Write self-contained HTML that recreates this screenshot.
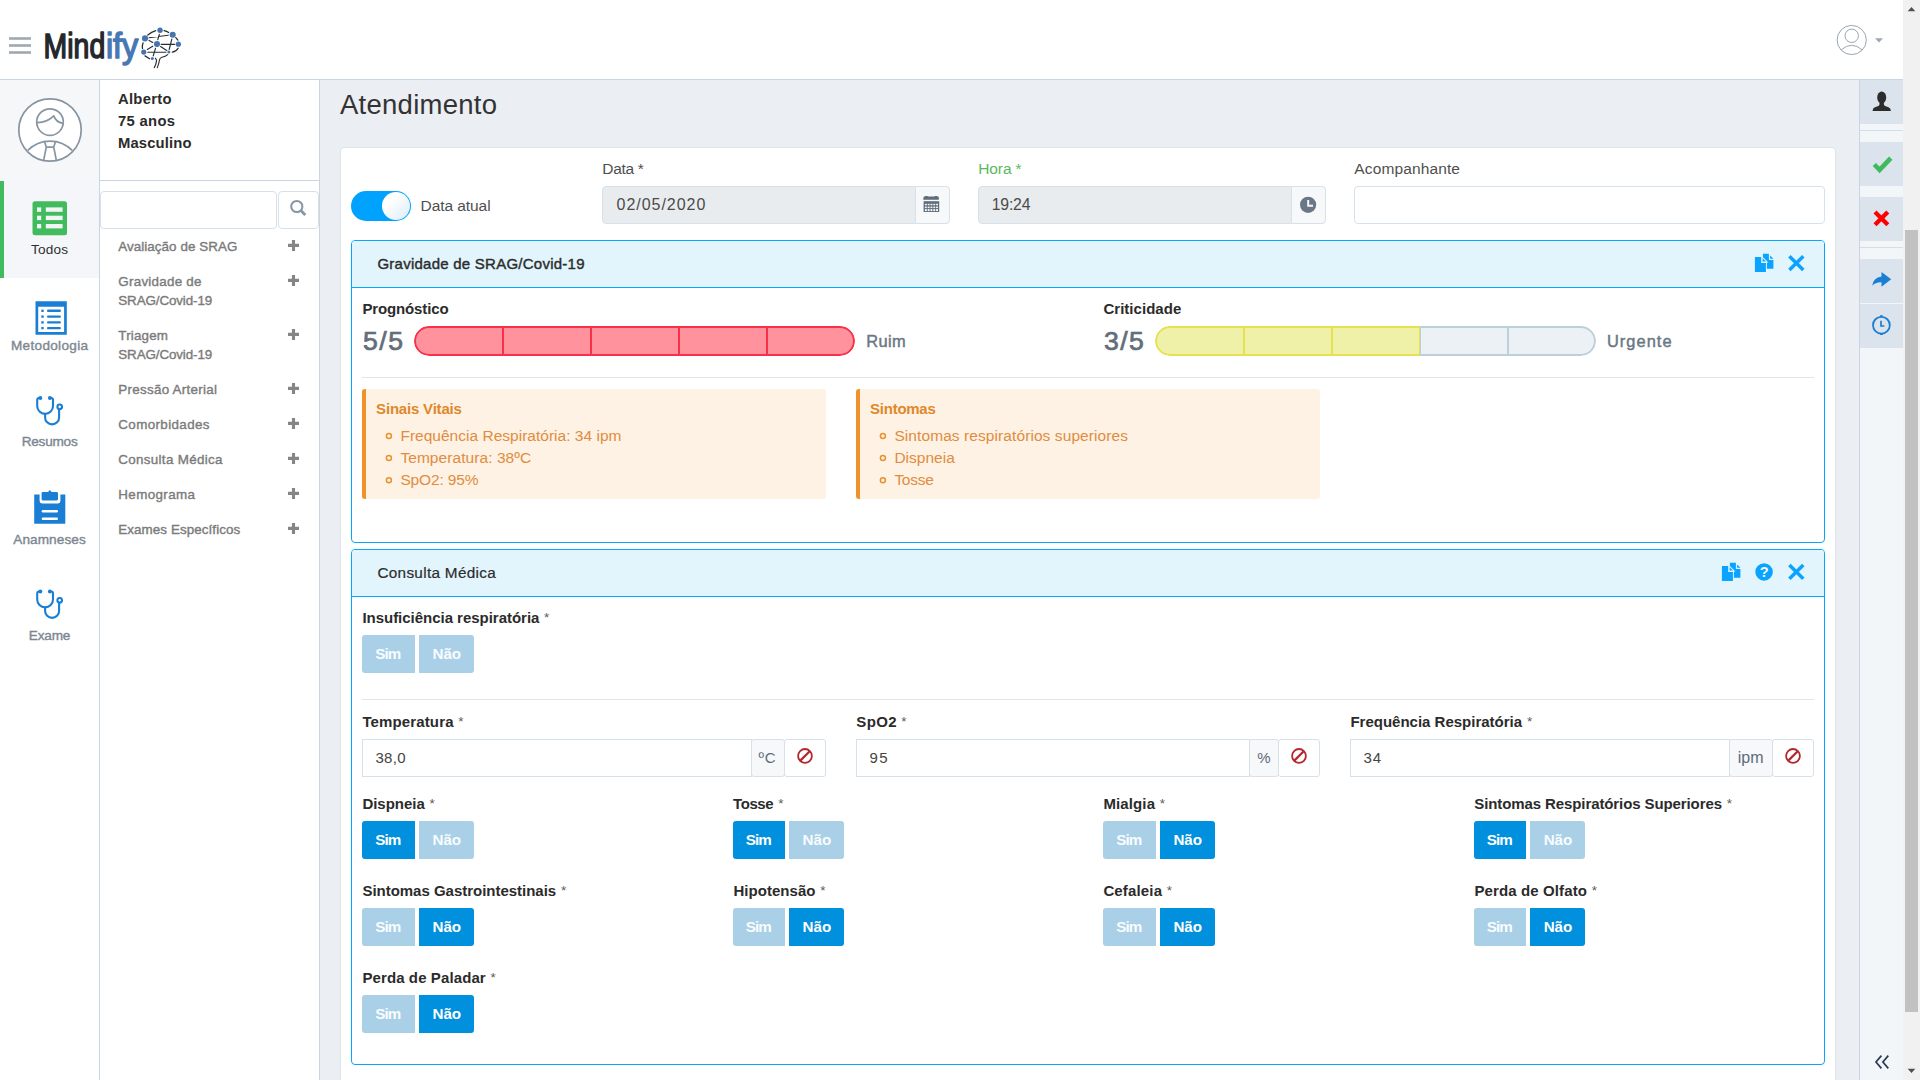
<!DOCTYPE html>
<html lang="pt-BR">
<head>
<meta charset="utf-8">
<title>Mindify - Atendimento</title>
<style>
*{box-sizing:border-box;margin:0;padding:0}
html,body{width:1920px;height:1080px;overflow:hidden;background:#fff}
body{position:relative;font-family:"Liberation Sans",sans-serif;color:#333;font-size:15px}
.a{position:absolute}
.t{position:absolute;white-space:nowrap;line-height:normal}
#hdr{left:0;top:0;width:1903px;height:80px;background:#fff;border-bottom:1px solid #c9d6e1}
#nav{left:0;top:80px;width:100px;height:1000px;background:#fff;border-right:1px solid #c9d6e1}
#avatarbg{left:0;top:80px;width:99px;height:101px;background:#f5f7f9}
#navact{left:0;top:181px;width:99px;height:97px;background:#f4f6f9;border-left:4px solid #41bb5d}
#side{left:100px;top:80px;width:220px;height:1000px;background:#fff;border-right:1px solid #c9d6e1}
#pat{left:100px;top:80px;width:219px;height:101px;border-bottom:1px solid #c9d6e1}
#main{left:320px;top:80px;width:1539px;height:1000px;background:#ebeef3}
#card{left:340px;top:147px;width:1496px;height:940px;background:#fff;border:1px solid #dde4ea;border-radius:4px}
#rbar{left:1859px;top:80px;width:44px;height:1000px;background:#f2f6f9;border-left:1px solid #c9d6e1}
.rb{left:1860px;width:43px;height:44px;background:#dbe3ec}
#sb{left:1903px;top:0;width:17px;height:1080px;background:#f1f1f1}
#sbt{left:1905px;top:230px;width:13px;height:782px;background:#c1c1c1}
.inp{border:1px solid #d6e1ea;background:#fff;height:38px}
.dis{background:#e9ecef}
.add{border:1px solid #d6e1ea;background:#f6f8fa;height:38px}
.panel{border:1px solid #07a6ff;border-radius:4px;background:#fff}
.ph{background:#e2f5fd;border-bottom:1px solid #07a6ff;height:47px;border-radius:3px 3px 0 0}
.hr{height:1px;background:#dfe6eb}
.alert{background:#fdf2e4;border-left:4px solid #f0922b;border-radius:3px}
.bt{height:38px;border-radius:3px 0 0 3px;background:#a9d0e7}
.bt.r{border-radius:0 3px 3px 0}
.bt.on{background:#0090dd}
.bar{height:30px;border-radius:15px;overflow:hidden}
.seg{position:absolute;top:0;height:30px;border-style:solid;border-width:2px 1px}
.red{background:#ff929d;border-color:#f8304a}
.yel{background:#f0f1a9;border-color:#e6e150}
.gry{background:#ecf1f5;border-color:#bcd0dc}
svg{position:absolute;overflow:visible}
</style>
</head>
<body>
<div class="a" id="main"></div>
<div class="a" id="hdr"></div>
<div class="a" id="nav"></div>
<div class="a" id="avatarbg"></div>
<div class="a" id="navact"></div>
<div class="a" id="side"></div>
<div class="a" id="pat"></div>
<div class="a inp" style="left:100px;top:191px;width:177px;border-radius:4px"></div>
<div class="a inp" style="left:278px;top:191px;width:41px;border-radius:4px"></div>
<div class="a" id="card"></div>
<div class="a" id="rbar"></div>
<div class="a rb" style="top:80px"></div>
<div class="a" style="left:1860px;top:130px;width:43px;height:1px;background:#d3dee7"></div>
<div class="a rb" style="top:142px"></div>
<div class="a rb" style="top:197px"></div>
<div class="a" style="left:1860px;top:247px;width:43px;height:1px;background:#d3dee7"></div>
<div class="a rb" style="top:259px"></div>
<div class="a rb" style="top:304px"></div>
<div class="a" id="sb"></div>
<div class="a" id="sbt"></div>

<!-- toggle -->
<div class="a" style="left:351px;top:191px;width:60px;height:30px;border-radius:15px;background:#00a2ff"></div>
<div class="a" style="left:382px;top:192px;width:28px;height:28px;border-radius:14px;background:linear-gradient(135deg,#fff 30%,#dcecf8)"></div>

<!-- top inputs -->
<div class="a inp dis" style="left:602px;top:186px;width:314px;border-radius:4px 0 0 4px"></div>
<div class="a add" style="left:915px;top:186px;width:35px;border-radius:0 4px 4px 0"></div>
<div class="a inp dis" style="left:978px;top:186px;width:314px;border-radius:4px 0 0 4px"></div>
<div class="a add" style="left:1291px;top:186px;width:35px;border-radius:0 4px 4px 0"></div>
<div class="a inp" style="left:1354px;top:186px;width:471px;border-radius:4px"></div>

<!-- panel 1 -->
<div class="a panel" style="left:351px;top:240px;width:1474px;height:303px"><div class="ph"></div></div>
<div class="a bar" style="left:414px;top:326px;width:441px">
<div class="seg red" style="left:0px;width:89px;border-left-width:2px;border-radius:15px 0 0 15px"></div>
<div class="seg red" style="left:89px;width:88px"></div>
<div class="seg red" style="left:177px;width:88px"></div>
<div class="seg red" style="left:265px;width:88px"></div>
<div class="seg red" style="left:353px;width:88px;border-right-width:2px;border-radius:0 15px 15px 0"></div>
</div>
<div class="a bar" style="left:1155px;top:326px;width:441px">
<div class="seg yel" style="left:0px;width:89px;border-left-width:2px;border-radius:15px 0 0 15px"></div>
<div class="seg yel" style="left:89px;width:88px"></div>
<div class="seg yel" style="left:177px;width:88px"></div>
<div class="seg gry" style="left:265px;width:88px"></div>
<div class="seg gry" style="left:353px;width:88px;border-right-width:2px;border-radius:0 15px 15px 0"></div>
</div>
<div class="a hr" style="left:362px;top:377px;width:1452px"></div>
<div class="a alert" style="left:362px;top:389px;width:464px;height:110px"></div>
<div class="a alert" style="left:856px;top:389px;width:464px;height:110px"></div>

<!-- panel 2 -->
<div class="a panel" style="left:351px;top:549px;width:1474px;height:516px"><div class="ph"></div></div>
<div class="a hr" style="left:362px;top:699px;width:1452px"></div>
<div class="a inp" style="left:362px;top:739px;width:390px"></div>
<div class="a add" style="left:751px;top:739px;width:34px;border-radius:3px"></div>
<div class="a inp" style="left:784px;top:739px;width:42px;border-radius:3px"></div>
<div class="a inp" style="left:856px;top:739px;width:394px"></div>
<div class="a add" style="left:1249px;top:739px;width:30px;border-radius:3px"></div>
<div class="a inp" style="left:1278px;top:739px;width:42px;border-radius:3px"></div>
<div class="a inp" style="left:1350px;top:739px;width:380px"></div>
<div class="a add" style="left:1729px;top:739px;width:44px;border-radius:3px"></div>
<div class="a inp" style="left:1772px;top:739px;width:42px;border-radius:3px"></div>
<div class="a bt" style="left:362px;top:635px;width:53px"></div>
<div class="a bt r" style="left:419px;top:635px;width:55px"></div>
<div class="a bt on" style="left:362px;top:821px;width:53px"></div>
<div class="a bt r" style="left:419px;top:821px;width:55px"></div>
<div class="a bt on" style="left:733px;top:821px;width:52px"></div>
<div class="a bt r" style="left:789px;top:821px;width:55px"></div>
<div class="a bt" style="left:1103px;top:821px;width:53px"></div>
<div class="a bt r on" style="left:1160px;top:821px;width:55px"></div>
<div class="a bt on" style="left:1474px;top:821px;width:52px"></div>
<div class="a bt r" style="left:1530px;top:821px;width:55px"></div>
<div class="a bt" style="left:362px;top:908px;width:53px"></div>
<div class="a bt r on" style="left:419px;top:908px;width:55px"></div>
<div class="a bt" style="left:733px;top:908px;width:52px"></div>
<div class="a bt r on" style="left:789px;top:908px;width:55px"></div>
<div class="a bt" style="left:1103px;top:908px;width:53px"></div>
<div class="a bt r on" style="left:1160px;top:908px;width:55px"></div>
<div class="a bt" style="left:1474px;top:908px;width:52px"></div>
<div class="a bt r on" style="left:1530px;top:908px;width:55px"></div>
<div class="a bt" style="left:362px;top:995px;width:53px"></div>
<div class="a bt r on" style="left:419px;top:995px;width:55px"></div>

<span class="t" style="left:340.00px;top:89.00px;font-size:27.5px;color:#333;letter-spacing:0.259px">Atendimento</span>
<span class="t" style="left:118.00px;top:91.00px;font-size:14.8px;color:#2b2b2b;font-weight:700;letter-spacing:0.284px">Alberto</span>
<span class="t" style="left:118.00px;top:113.00px;font-size:14.8px;color:#2b2b2b;font-weight:700;letter-spacing:0.315px">75 anos</span>
<span class="t" style="left:118.00px;top:135.00px;font-size:14.8px;color:#2b2b2b;font-weight:700;letter-spacing:0.143px">Masculino</span>
<span class="t" style="left:118.30px;top:239.00px;font-size:13.4px;color:#7b7b7b;-webkit-text-stroke:0.38px;letter-spacing:0.056px">Avaliação de SRAG</span>
<span class="t" style="left:118.30px;top:274.00px;font-size:13.4px;color:#7b7b7b;-webkit-text-stroke:0.38px;letter-spacing:0.254px">Gravidade de</span>
<span class="t" style="left:118.30px;top:293.00px;font-size:13.4px;color:#7b7b7b;-webkit-text-stroke:0.38px;letter-spacing:-0.114px">SRAG/Covid-19</span>
<span class="t" style="left:118.30px;top:328.00px;font-size:13.4px;color:#7b7b7b;-webkit-text-stroke:0.38px;letter-spacing:0.179px">Triagem</span>
<span class="t" style="left:118.30px;top:347.00px;font-size:13.4px;color:#7b7b7b;-webkit-text-stroke:0.38px;letter-spacing:-0.114px">SRAG/Covid-19</span>
<span class="t" style="left:118.30px;top:382.00px;font-size:13.4px;color:#7b7b7b;-webkit-text-stroke:0.38px;letter-spacing:0.278px">Pressão Arterial</span>
<span class="t" style="left:118.30px;top:417.00px;font-size:13.4px;color:#7b7b7b;-webkit-text-stroke:0.38px;letter-spacing:0.373px">Comorbidades</span>
<span class="t" style="left:118.30px;top:452.00px;font-size:13.4px;color:#7b7b7b;-webkit-text-stroke:0.38px;letter-spacing:0.311px">Consulta Médica</span>
<span class="t" style="left:118.30px;top:487.00px;font-size:13.4px;color:#7b7b7b;-webkit-text-stroke:0.38px;letter-spacing:0.377px">Hemograma</span>
<span class="t" style="left:118.30px;top:522.00px;font-size:13.4px;color:#7b7b7b;-webkit-text-stroke:0.38px;letter-spacing:0.079px">Exames Específicos</span>
<span class="t" style="left:31.00px;top:242.00px;font-size:13.6px;color:#2e2e2e;letter-spacing:0.180px">Todos</span>
<span class="t" style="left:11.00px;top:338.00px;font-size:13.6px;color:#7d8791;-webkit-text-stroke:0.38px;letter-spacing:0.294px">Metodologia</span>
<span class="t" style="left:21.70px;top:434.00px;font-size:13.6px;color:#7d8791;-webkit-text-stroke:0.38px;letter-spacing:-0.237px">Resumos</span>
<span class="t" style="left:13.25px;top:532.00px;font-size:13.6px;color:#7d8791;-webkit-text-stroke:0.38px;letter-spacing:0.088px">Anamneses</span>
<span class="t" style="left:28.85px;top:628.00px;font-size:13.6px;color:#7d8791;-webkit-text-stroke:0.38px;letter-spacing:-0.203px">Exame</span>
<span class="t" style="left:420.50px;top:197.00px;font-size:15.5px;color:#4f4f4f;letter-spacing:-0.064px">Data atual</span>
<span class="t" style="left:602.30px;top:160.00px;font-size:15.5px;color:#4f4f4f;letter-spacing:-0.339px">Data *</span>
<span class="t" style="left:616.50px;top:196.00px;font-size:16px;color:#4a4a4a;letter-spacing:0.980px">02/05/2020</span>
<span class="t" style="left:978.30px;top:160.00px;font-size:15.5px;color:#5cb85c;letter-spacing:-0.127px">Hora *</span>
<span class="t" style="left:991.70px;top:196.00px;font-size:15.8px;color:#4a4a4a;letter-spacing:-0.183px">19:24</span>
<span class="t" style="left:1354.30px;top:160.00px;font-size:15.5px;color:#4f4f4f;letter-spacing:0.129px">Acompanhante</span>
<span class="t" style="left:377.40px;top:255.00px;font-size:15px;color:#2d2d2d;-webkit-text-stroke:0.42px;letter-spacing:0.247px">Gravidade de SRAG/Covid-19</span>
<span class="t" style="left:362.40px;top:300.00px;font-size:15px;color:#2b2b2b;font-weight:700;letter-spacing:-0.132px">Prognóstico</span>
<span class="t" style="left:363.00px;top:326.00px;font-size:26.6px;color:#626e7a;-webkit-text-stroke:0.74px;letter-spacing:1.500px">5/5</span>
<span class="t" style="left:866.20px;top:332.00px;font-size:16.4px;color:#6b7783;-webkit-text-stroke:0.46px;letter-spacing:0.417px">Ruim</span>
<span class="t" style="left:1103.40px;top:300.00px;font-size:15px;color:#2b2b2b;font-weight:700;letter-spacing:0.037px">Criticidade</span>
<span class="t" style="left:1104.00px;top:326.00px;font-size:26.6px;color:#626e7a;-webkit-text-stroke:0.74px;letter-spacing:1.408px">3/5</span>
<span class="t" style="left:1607.00px;top:332.00px;font-size:16.4px;color:#6b7783;-webkit-text-stroke:0.46px;letter-spacing:1.031px">Urgente</span>
<span class="t" style="left:376.10px;top:400.00px;font-size:15px;color:#e0882a;font-weight:700;letter-spacing:-0.192px">Sinais Vitais</span>
<span class="t" style="left:400.40px;top:427.00px;font-size:15.5px;color:#e18c40;letter-spacing:0.018px">Frequência Respiratória: 34 ipm</span>
<span class="t" style="left:400.40px;top:449.00px;font-size:15.5px;color:#e18c40;letter-spacing:0.067px">Temperatura: 38ºC</span>
<span class="t" style="left:400.40px;top:471.00px;font-size:15.5px;color:#e18c40;letter-spacing:-0.135px">SpO2: 95%</span>
<span class="t" style="left:870.10px;top:400.00px;font-size:15px;color:#e0882a;font-weight:700;letter-spacing:-0.259px">Sintomas</span>
<span class="t" style="left:894.40px;top:427.00px;font-size:15.5px;color:#e18c40;letter-spacing:0.085px">Sintomas respiratórios superiores</span>
<span class="t" style="left:894.40px;top:449.00px;font-size:15.5px;color:#e18c40;letter-spacing:0.012px">Dispneia</span>
<span class="t" style="left:894.40px;top:471.00px;font-size:15.5px;color:#e18c40;letter-spacing:-0.275px">Tosse</span>
<span class="t" style="left:377.40px;top:564.00px;font-size:15.3px;color:#2d2d2d;-webkit-text-stroke:.2px;letter-spacing:0.312px">Consulta Médica</span>
<span class="t" style="left:375.40px;top:749.00px;font-size:15px;color:#444;letter-spacing:0.366px">38,0</span>
<span class="t" style="left:869.40px;top:749.00px;font-size:15px;color:#444;letter-spacing:1.500px">95</span>
<span class="t" style="left:1363.50px;top:749.00px;font-size:15px;color:#444;letter-spacing:0.812px">34</span>
<span class="t" style="left:758.50px;top:749.00px;font-size:15px;color:#5e6b7a;letter-spacing:0.688px">ºC</span>
<span class="t" style="left:1257.33px;top:749.00px;font-size:15px;color:#5e6b7a">%</span>
<span class="t" style="left:1737.70px;top:749.00px;font-size:16px;color:#5e6b7a;letter-spacing:0.109px">ipm</span>
<span class="t" style="left:362.40px;top:609.00px;font-size:15px;color:#2b2b2b;font-weight:700;letter-spacing:-0.023px">Insuficiência respiratória</span>
<span class="t" style="left:544.10px;top:610.00px;font-size:13.5px;color:#5a5a5a">*</span>
<span class="t" style="left:362.40px;top:713.00px;font-size:15px;color:#2b2b2b;font-weight:700;letter-spacing:0.133px">Temperatura</span>
<span class="t" style="left:458.20px;top:714.00px;font-size:13.5px;color:#5a5a5a">*</span>
<span class="t" style="left:856.30px;top:713.00px;font-size:15px;color:#2b2b2b;font-weight:700;letter-spacing:0.371px">SpO2</span>
<span class="t" style="left:901.30px;top:714.00px;font-size:13.5px;color:#5a5a5a">*</span>
<span class="t" style="left:1350.40px;top:713.00px;font-size:15px;color:#2b2b2b;font-weight:700">Frequência Respiratória</span>
<span class="t" style="left:1526.90px;top:714.00px;font-size:13.5px;color:#5a5a5a">*</span>
<span class="t" style="left:362.40px;top:795.00px;font-size:15px;color:#2b2b2b;font-weight:700;letter-spacing:-0.019px">Dispneia</span>
<span class="t" style="left:429.50px;top:796.00px;font-size:13.5px;color:#5a5a5a">*</span>
<span class="t" style="left:733.10px;top:795.00px;font-size:15px;color:#2b2b2b;font-weight:700;letter-spacing:-0.463px">Tosse</span>
<span class="t" style="left:778.20px;top:796.00px;font-size:13.5px;color:#5a5a5a">*</span>
<span class="t" style="left:1103.40px;top:795.00px;font-size:15px;color:#2b2b2b;font-weight:700;letter-spacing:0.123px">Mialgia</span>
<span class="t" style="left:1159.70px;top:796.00px;font-size:13.5px;color:#5a5a5a">*</span>
<span class="t" style="left:1474.30px;top:795.00px;font-size:15px;color:#2b2b2b;font-weight:700;letter-spacing:-0.100px">Sintomas Respiratórios Superiores</span>
<span class="t" style="left:1726.70px;top:796.00px;font-size:13.5px;color:#5a5a5a">*</span>
<span class="t" style="left:362.40px;top:882.00px;font-size:15px;color:#2b2b2b;font-weight:700;letter-spacing:-0.017px">Sintomas Gastrointestinais</span>
<span class="t" style="left:560.90px;top:883.00px;font-size:13.5px;color:#5a5a5a">*</span>
<span class="t" style="left:733.40px;top:882.00px;font-size:15px;color:#2b2b2b;font-weight:700;letter-spacing:0.046px">Hipotensão</span>
<span class="t" style="left:820.20px;top:883.00px;font-size:13.5px;color:#5a5a5a">*</span>
<span class="t" style="left:1103.40px;top:882.00px;font-size:15px;color:#2b2b2b;font-weight:700;letter-spacing:0.150px">Cefaleia</span>
<span class="t" style="left:1166.70px;top:883.00px;font-size:13.5px;color:#5a5a5a">*</span>
<span class="t" style="left:1474.40px;top:882.00px;font-size:15px;color:#2b2b2b;font-weight:700;letter-spacing:0.124px">Perda de Olfato</span>
<span class="t" style="left:1591.70px;top:883.00px;font-size:13.5px;color:#5a5a5a">*</span>
<span class="t" style="left:362.40px;top:969.00px;font-size:15px;color:#2b2b2b;font-weight:700;letter-spacing:0.104px">Perda de Paladar</span>
<span class="t" style="left:490.40px;top:970.00px;font-size:13.5px;color:#5a5a5a">*</span>
<span class="t" style="left:375.30px;top:645.00px;font-size:15.2px;color:#f9fcfe;font-weight:700;letter-spacing:-0.930px">Sim</span>
<span class="t" style="left:432.50px;top:645.00px;font-size:15.2px;color:#f9fcfe;font-weight:700;letter-spacing:-0.052px">Não</span>
<span class="t" style="left:375.30px;top:831.00px;font-size:15.2px;color:#fff;font-weight:700;letter-spacing:-0.930px">Sim</span>
<span class="t" style="left:432.50px;top:831.00px;font-size:15.2px;color:#f9fcfe;font-weight:700;letter-spacing:-0.052px">Não</span>
<span class="t" style="left:745.80px;top:831.00px;font-size:15.2px;color:#fff;font-weight:700;letter-spacing:-0.930px">Sim</span>
<span class="t" style="left:802.60px;top:831.00px;font-size:15.2px;color:#f9fcfe;font-weight:700;letter-spacing:-0.052px">Não</span>
<span class="t" style="left:1116.30px;top:831.00px;font-size:15.2px;color:#f9fcfe;font-weight:700;letter-spacing:-0.930px">Sim</span>
<span class="t" style="left:1173.40px;top:831.00px;font-size:15.2px;color:#fff;font-weight:700;letter-spacing:-0.052px">Não</span>
<span class="t" style="left:1486.80px;top:831.00px;font-size:15.2px;color:#fff;font-weight:700;letter-spacing:-0.930px">Sim</span>
<span class="t" style="left:1543.70px;top:831.00px;font-size:15.2px;color:#f9fcfe;font-weight:700;letter-spacing:-0.052px">Não</span>
<span class="t" style="left:375.30px;top:918.00px;font-size:15.2px;color:#f9fcfe;font-weight:700;letter-spacing:-0.930px">Sim</span>
<span class="t" style="left:432.50px;top:918.00px;font-size:15.2px;color:#fff;font-weight:700;letter-spacing:-0.052px">Não</span>
<span class="t" style="left:745.80px;top:918.00px;font-size:15.2px;color:#f9fcfe;font-weight:700;letter-spacing:-0.930px">Sim</span>
<span class="t" style="left:802.60px;top:918.00px;font-size:15.2px;color:#fff;font-weight:700;letter-spacing:-0.052px">Não</span>
<span class="t" style="left:1116.30px;top:918.00px;font-size:15.2px;color:#f9fcfe;font-weight:700;letter-spacing:-0.930px">Sim</span>
<span class="t" style="left:1173.40px;top:918.00px;font-size:15.2px;color:#fff;font-weight:700;letter-spacing:-0.052px">Não</span>
<span class="t" style="left:1486.80px;top:918.00px;font-size:15.2px;color:#f9fcfe;font-weight:700;letter-spacing:-0.930px">Sim</span>
<span class="t" style="left:1543.70px;top:918.00px;font-size:15.2px;color:#fff;font-weight:700;letter-spacing:-0.052px">Não</span>
<span class="t" style="left:375.30px;top:1005.00px;font-size:15.2px;color:#f9fcfe;font-weight:700;letter-spacing:-0.930px">Sim</span>
<span class="t" style="left:432.50px;top:1005.00px;font-size:15.2px;color:#fff;font-weight:700;letter-spacing:-0.052px">Não</span>
<!-- header: hamburger + logo + brain + user -->
<svg width="1920" height="80" style="left:0;top:0" viewBox="0 0 1920 80">
<g fill="#9ea8b2"><rect x="9" y="37.2" width="22" height="2.6"/><rect x="9" y="44.2" width="22" height="2.6"/><rect x="9" y="51.2" width="22" height="2.6"/></g>
<g font-family="Liberation Sans, sans-serif" font-size="35" stroke-width="1.5" stroke-linejoin="round">
<text x="43.6" y="58.2" textLength="61.6" lengthAdjust="spacingAndGlyphs" fill="#24282c" stroke="#24282c">Mind</text>
<text x="105.9" y="58.2" textLength="32.4" lengthAdjust="spacingAndGlyphs" fill="#4878b3" stroke="#4878b3">ify</text>
</g>
<g stroke="#2a2e33" stroke-width="1.15" fill="none" stroke-linecap="round">
<path d="M149.1 37.8L168.2 35.2M159.3 34.3L157.8 39.6M161.1 44.35H174.8M171.8 39.1L169.2 49.5M147.8 52.2H165.9M155.5 48.3L153.2 55.9"/>
<path d="M149.1 40.4L152.7 42.4M152.7 46.2L147.3 49.5M160.6 46.5L166.7 50.6"/>
<path d="M147.8 35Q151.5 32 155.7 30.7M164.1 30.6Q166.8 31.2 168.7 32.5M175.8 37.6L177.9 40.1M178.1 48.3Q176.5 51.6 172.3 52.1M143 42.9Q142 45.5 142.5 48.5M145 55.9L149.6 58.7" stroke-width="1.3"/>
<path d="M155.4 58.2L156.6 60.1Q156.3 64 154.3 67.6M167.7 54.6Q165.5 56.6 162 57.3Q159.7 58 159.5 60Q158.8 64 157.3 67.6"/>
</g>
<g fill="#4675ae"><circle cx="160.05" cy="30.2" r="2.7"/><circle cx="172.7" cy="34.7" r="3.05"/><circle cx="145" cy="38.4" r="3.05"/><circle cx="157" cy="44" r="3.05"/><circle cx="178.4" cy="44.2" r="2.6"/><circle cx="143.75" cy="52.1" r="2.6"/><circle cx="168.8" cy="52.1" r="1.5"/><circle cx="152.3" cy="58.6" r="1.5"/></g>
<g stroke="#9aa5b0" stroke-width="1" fill="none"><circle cx="1851.7" cy="40" r="14.6"/><circle cx="1851.7" cy="35.8" r="6.7"/><path d="M1841.2 49.8Q1851.7 40.8 1862.2 49.8"/></g>
<path d="M1875 38.2h8l-4 4.4z" fill="#9ea8b2"/>
</svg>
<!-- scrollbar arrows -->
<svg width="17" height="1080" style="left:1903px;top:0" viewBox="0 0 17 1080"><path d="M4.7 11.3h7.6l-3.8-4.3zM4.7 1068.8h7.6l-3.8 4.3z" fill="#505050"/></svg>
<!-- avatar -->
<svg width="100" height="100" style="left:0;top:80px" viewBox="0 80 100 100">
<g stroke="#8795a2" stroke-width="1.7" fill="none" stroke-linejoin="round">
<circle cx="50" cy="130" r="31.2" fill="#fff"/><circle cx="50" cy="122.1" r="13.3"/>
<path d="M37 122.6Q46.5 122.8 53.8 115.9Q56 122.2 62.8 123.4"/>
<path d="M27.8 150.4A31 31 0 0 1 72.2 150.4"/>
<path d="M44.6 141.9L46.25 147.1L43.75 159.8M55.4 141.9L53.75 147.1L56.25 159.8M46.25 147.1H53.75"/>
</g></svg>
<!-- nav icons -->
<svg width="100" height="500" style="left:0;top:190px" viewBox="0 190 100 500">
<rect x="32.5" y="201.2" width="34.5" height="34" rx="2.5" fill="#41bb5d"/>
<g fill="#f1f5f3"><rect x="37" y="207.4" width="4.2" height="4.4"/><rect x="37" y="215.7" width="4.2" height="4.4"/><rect x="37" y="224" width="4.2" height="4.4"/><rect x="45.8" y="207.4" width="16.8" height="4.4"/><rect x="45.8" y="215.7" width="16.8" height="4.4"/><rect x="45.8" y="224" width="16.8" height="4.4"/></g>
<path d="M35.5 301.2h31.3v33.6h-31.3zM38.2 306.7v25.4h25.9v-25.4z" fill="#1a7fd4" fill-rule="evenodd"/>
<g fill="#1a7fd4"><rect x="41.3" y="309.6" width="2.4" height="2.4"/><rect x="41.3" y="315.4" width="2.4" height="2.4"/><rect x="41.3" y="321.2" width="2.4" height="2.4"/><rect x="41.3" y="326.9" width="2.4" height="2.4"/><rect x="47" y="309.6" width="13.9" height="2.4" rx="1"/><rect x="47" y="315.4" width="13.9" height="2.4" rx="1"/><rect x="47" y="321.2" width="13.9" height="2.4" rx="1"/><rect x="47" y="326.9" width="13.9" height="2.4" rx="1"/></g>
<g id="steth" stroke="#1a7fd4" stroke-width="2.1" fill="none" stroke-linecap="round">
<path d="M40.2 398H39Q37.2 398 37.2 400V406A7.9 7.9 0 0 0 53 406V400Q53 398 51.2 398H50"/>
<path d="M45.1 414V417.4A7 7 0 0 0 59.1 417.4V409.4"/>
<circle cx="59.7" cy="406.8" r="2.3"/>
</g>
<circle cx="40.3" cy="398" r="2" fill="#1a7fd4"/><circle cx="49.9" cy="398" r="2" fill="#1a7fd4"/>
<g transform="translate(0 193.5)"><g stroke="#1a7fd4" stroke-width="2.1" fill="none" stroke-linecap="round">
<path d="M40.2 398H39Q37.2 398 37.2 400V406A7.9 7.9 0 0 0 53 406V400Q53 398 51.2 398H50"/>
<path d="M45.1 414V417.4A7 7 0 0 0 59.1 417.4V409.4"/>
<circle cx="59.7" cy="406.8" r="2.3"/></g>
<circle cx="40.3" cy="398" r="2" fill="#1a7fd4"/><circle cx="49.9" cy="398" r="2" fill="#1a7fd4"/></g>
<path d="M34.2 494.5h31.1v29.2h-31.1z" fill="#1a7fd4"/>
<path d="M39.6 491.6h20.8v9.4q0 2.4-2.4 2.400h-16q-2.4 0-2.4-2.400z" fill="#fff"/>
<path d="M42.800 492h5.2l1.8-2.100 1.800 2.100h5.2q1.200 0 1.200 1.200v5.800q0 1.600-1.600 1.600h-13.200q-1.600 0-1.600-1.600v-5.800q0-1.200 1.200-1.200z" fill="#1a7fd4"/>
<rect x="41.7" y="510" width="16.3" height="2.4" rx="1.2" fill="#fff"/><rect x="41.7" y="517.6" width="16.3" height="2.4" rx="1.2" fill="#fff"/>
</svg>
<!-- side: search + plus -->
<svg width="220" height="500" style="left:100px;top:180px" viewBox="100 180 220 500">
<g stroke="#8796a5" fill="none"><circle cx="296.8" cy="206.5" r="5.6" stroke-width="2"/><path d="M300.9 210.6L305.3 215" stroke-width="2.8"/></g>
<g stroke="#858585" stroke-width="3.1"><path d="M288 245.4h11M293.5 239.9v11"/><path d="M288 280.4h11M293.5 274.9v11"/><path d="M288 334.4h11M293.5 328.9v11"/><path d="M288 388.4h11M293.5 382.9v11"/><path d="M288 423.4h11M293.5 417.9v11"/><path d="M288 458.4h11M293.5 452.9v11"/><path d="M288 493.4h11M293.5 487.9v11"/><path d="M288 528.4h11M293.5 522.9v11"/></g>
</svg>
<!-- calendar + clock -->
<svg width="420" height="40" style="left:910px;top:185px" viewBox="910 185 420 40">
<g fill="#5f6c7a"><path d="M923.6 197.2q0-.6.6-.6h.8l.6-.7h1.8l.6.7h6.4l.6-.7h1.8l.6.7h.8q.6 0 .6.6v2.6h-15.6z"/><rect x="923.6" y="201.2" width="15.6" height="10.8"/></g>
<g fill="#f6f8fa"><rect x="924.9" y="203.8" width="1.9" height="1.5"/><rect x="927.7" y="203.8" width="1.9" height="1.5"/><rect x="930.5" y="203.8" width="1.9" height="1.5"/><rect x="933.3" y="203.8" width="1.9" height="1.5"/><rect x="936.1" y="203.8" width="1.9" height="1.5"/>
<rect x="924.9" y="206.6" width="1.9" height="1.5"/><rect x="927.7" y="206.6" width="1.9" height="1.5"/><rect x="930.5" y="206.6" width="1.9" height="1.5"/><rect x="933.3" y="206.6" width="1.9" height="1.5"/><rect x="936.1" y="206.6" width="1.9" height="1.5"/>
<rect x="924.9" y="209.1" width="1.9" height="2"/><rect x="927.7" y="209.1" width="1.9" height="2"/><rect x="930.5" y="209.1" width="1.9" height="2"/><rect x="933.3" y="209.1" width="1.9" height="2"/><rect x="936.1" y="209.1" width="1.9" height="2"/></g>
<circle cx="1308.1" cy="204.8" r="8.1" fill="#697786"/><path d="M1308.2 200v5.8h4.8" stroke="#f6f8fa" stroke-width="2" fill="none"/>
</svg>
<!-- panel header icons -->
<svg width="100" height="30" style="left:1750px;top:250px" viewBox="1750 250 100 30">
<g id="cp1" fill="#0aa3ff"><path d="M1762.9 253.8h6v6.300h4.5v8.700h-10.5z"/><path d="M1770.100 255.500l3.400 3.300h-3.400z"/><path d="M1754.9 256.9h6.300v6h4.700v9h-11zM1762.600 258.300l3.400 3.300h-3.400z" stroke="#e2f5fd" stroke-width="2" fill="#e2f5fd"/><path d="M1754.9 256.9h6.300v6h4.700v9h-11z"/><path d="M1762.600 258.300l3.400 3.300h-3.400z"/></g>
<path d="M1789.4 256.2l13.9 13.7M1803.3 256.2l-13.9 13.7" stroke="#0aa3ff" stroke-width="3.5"/>
</svg>
<svg width="110" height="30" style="left:1715px;top:559px" viewBox="1715 559 110 30">
<g fill="#0aa3ff" transform="translate(-33 309)"><path d="M1762.9 253.8h6v6.300h4.5v8.700h-10.5z"/><path d="M1770.100 255.500l3.400 3.300h-3.400z"/><path d="M1754.9 256.9h6.300v6h4.700v9h-11zM1762.600 258.300l3.400 3.300h-3.400z" stroke="#e2f5fd" stroke-width="2" fill="#e2f5fd"/><path d="M1754.9 256.9h6.300v6h4.700v9h-11z"/><path d="M1762.600 258.300l3.400 3.300h-3.400z"/></g>
<circle cx="1764.05" cy="571.9" r="8.75" fill="#0aa3ff"/>
<text x="1764.1" y="577.4" font-family="Liberation Sans, sans-serif" font-weight="700" font-size="14.6" fill="#f4fbfe" text-anchor="middle">?</text>
<path d="M1789.4 565.1l13.9 13.7M1803.3 565.1l-13.9 13.7" stroke="#0aa3ff" stroke-width="3.5"/>
</svg>
<!-- ban icons -->
<svg width="1100" height="30" style="left:780px;top:742px" viewBox="780 742 1100 30">
<g stroke="#b3282f" fill="none"><circle cx="805" cy="755.9" r="6.9" stroke-width="1.8"/><path d="M800.3 760.6l9.4-9.4" stroke-width="2.2"/>
<circle cx="1299" cy="755.9" r="6.9" stroke-width="1.8"/><path d="M1294.3 760.6l9.4-9.4" stroke-width="2.2"/>
<circle cx="1793" cy="755.9" r="6.9" stroke-width="1.8"/><path d="M1788.3 760.6l9.4-9.4" stroke-width="2.2"/></g>
</svg>
<!-- alert bullets -->
<svg width="520" height="70" style="left:380px;top:425px" viewBox="380 425 520 70">
<g stroke="#e8912f" stroke-width="1.5" fill="none"><circle cx="388.9" cy="436.1" r="2.5"/><circle cx="388.9" cy="458.1" r="2.5"/><circle cx="388.9" cy="480.2" r="2.5"/><circle cx="882.9" cy="436.1" r="2.5"/><circle cx="882.9" cy="458.1" r="2.5"/><circle cx="882.9" cy="480.2" r="2.5"/></g>
</svg>
<!-- right bar icons -->
<svg width="44" height="1000" style="left:1859px;top:80px" viewBox="1859 80 44 1000">
<ellipse cx="1881.700" cy="97.600" rx="4.500" ry="6" fill="#2c2c2c"/><path d="M1879.500 102v2.300q0 1.200-1.200 1.700l-3.400 1.300q-2.200.9-2.400 3.600h18.400q-.2-2.700-2.400-3.600l-3.400-1.300q-1.200-.5-1.200-1.700v-2.300z" fill="#2c2c2c"/>
<path d="M1874.3 164.500l5.300 5.400l11.200-11.700" stroke="#3fbb5b" stroke-width="4.6" fill="none"/>
<path d="M1875 211.900l12.800 12.800M1887.800 211.900l-12.800 12.800" stroke="#fe0000" stroke-width="4.2"/>
<path d="M1881.500 272l9.700 7.300l-9.700 7.400v-4.500q-6.200-.2-9.300 3.600q.9-8.100 9.300-9.300z" fill="#1a7fd4"/>
<g stroke="#1a7fd4" fill="none"><circle cx="1881.400" cy="325.200" r="8.400" stroke-width="1.800"/><path d="M1881 320.800v5.200h3.400" stroke-width="1.700"/><path d="M1880 316h2.800M1880 334.400h2.800" stroke-width="1.400"/></g>
<path d="M1881.400 1055.600l-5.400 6.400l5.400 6.400M1888.300 1055.600l-5.400 6.400l5.400 6.400" stroke="#2a3a55" stroke-width="1.700" fill="none"/>
</svg>

</body>
</html>
